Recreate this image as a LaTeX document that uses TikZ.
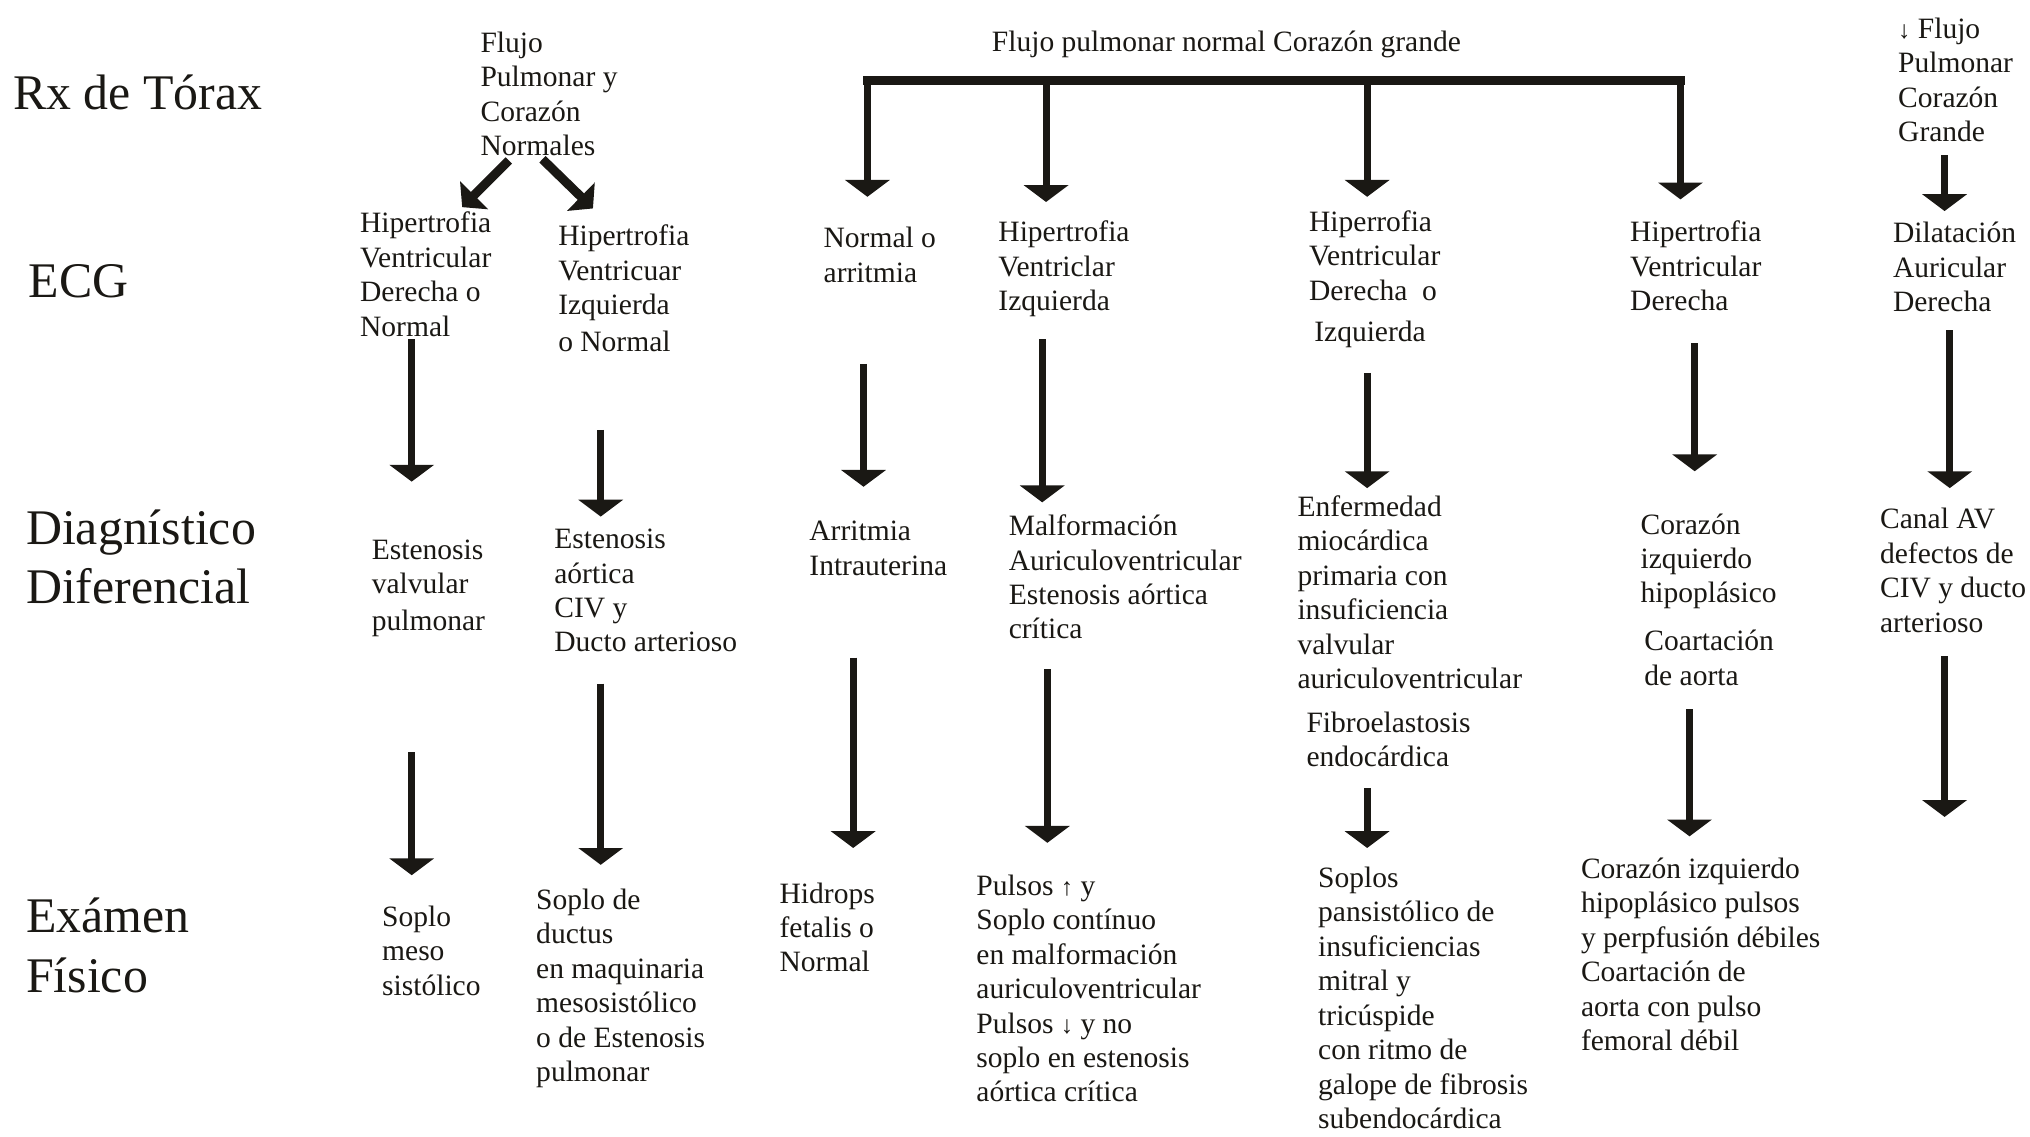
\documentclass[tikz,border=0pt]{standalone}
\usepackage{fontspec}
\setmainfont{Liberation Serif}
\usetikzlibrary{arrows.meta}
\definecolor{ink}{HTML}{1A1814}
% small arrow glyphs used inside the texts
\newcommand{\uparr}{{\fontsize{19}{19}\selectfont ↑}}
\newcommand{\dnarr}{{\fontsize{19}{19}\selectfont ↓}}
\begin{document}
\begin{tikzpicture}[x=1pt,y=-1pt,
  txt/.style={anchor=north west, inner sep=0pt, align=left, text=ink, yshift=8.5pt,
    font=\fontsize{22.8}{26.6}\selectfont, execute at begin node={\rule{0pt}{18pt}}},
  lbl/.style={anchor=north west, inner sep=0pt, align=left, text=ink, yshift=14.5pt,
    font=\fontsize{38.5}{46}\selectfont, execute at begin node={\rule{0pt}{30pt}}},
  arr/.style={draw=ink, line width=5.5pt, -{Triangle[width=34pt,length=13pt]}},
  diag/.style={draw=ink, line width=7pt, -{Triangle[width=30pt,length=13pt]}},
  bar/.style={draw=ink, line width=7pt, line cap=rect}]
\useasboundingbox[fill=white] (0,0) rectangle (1568,878);

% row titles
\node[lbl] (rx)  at (10,69)  {Rx de Tórax};
\node[lbl] (ecg) at (22,214) {ECG};
\node[lbl] (dx)  at (20,408) {Diagnístico\\Diferencial};
\node[lbl] (ex)  at (20,708) {Exámen\\Físico};

% chest x-ray
\node[txt] (fn) at (371,33)  {Flujo\\Pulmonar y\\Corazón\\Normales};
\node[txt] (fg) at (766,30)  {Flujo pulmonar normal Corazón grande};
\node[txt] (fd) at (1466,22) {\dnarr\ Flujo\\Pulmonar\\Corazón\\Grande};

% ECG
\node[txt] (e1) at (278,172)  {Hipertrofia\\Ventricular\\Derecha o\\Normal};
\node[txt] (e2) at (431,182)  {Hipertrofia\\Ventricuar\\Izquierda\\[2pt]o Normal};
\node[txt] (e3) at (636,184)  {Normal o\\arritmia};
\node[txt] (e4) at (771,179)  {Hipertrofia\\Ventriclar\\Izquierda};
\node[txt] (e5) at (1011,171) {Hiperrofia\\Ventricular\\Derecha\ \ o\\[5pt]\hspace{4pt}Izquierda};
\node[txt] (e6) at (1259,179) {Hipertrofia\\Ventricular\\Derecha};
\node[txt] (e7) at (1462,180) {Dilatación\\Auricular\\Derecha};

% differential diagnosis
\node[txt] (d1)  at (287,425)  {Estenosis\\valvular\\[2pt]pulmonar};
\node[txt] (d2)  at (428,417)  {Estenosis\\aórtica\\CIV y\\Ducto arterioso};
\node[txt] (d3)  at (625,411)  {Arritmia\\Intrauterina};
\node[txt] (d4)  at (779,406)  {Malformación\\Auriculoventricular\\Estenosis aórtica\\crítica};
\node[txt] (d5)  at (1002,391) {Enfermedad\\miocárdica\\primaria con\\insuficiencia\\valvular\\auriculoventricular};
\node[txt] (d5b) at (1009,558) {Fibroelastosis\\endocárdica};
\node[txt] (d6)  at (1267,405) {Corazón\\izquierdo\\hipoplásico};
\node[txt] (d6b) at (1270,495) {Coartación\\de aorta};
\node[txt] (d7)  at (1452,401) {Canal AV\\defectos de\\CIV y ducto\\arterioso};

% physical examination
\node[txt] (p1) at (295,708)  {Soplo\\meso\\sistólico};
\node[txt] (p2) at (414,695)  {Soplo de\\ductus\\en maquinaria\\mesosistólico\\o de Estenosis\\pulmonar};
\node[txt] (p3) at (602,690)  {Hidrops\\fetalis o\\Normal};
\node[txt] (p4) at (754,684)  {Pulsos \uparr\ y\\Soplo contínuo\\en malformación\\auriculoventricular\\Pulsos \dnarr\ y no\\soplo en estenosis\\aórtica crítica};
\node[txt] (p5) at (1018,678) {Soplos\\pansistólico de\\insuficiencias\\mitral y\\tricúspide\\con ritmo de\\galope de fibrosis\\subendocárdica};
\node[txt] (p6) at (1221,671) {Corazón izquierdo\\hipoplásico pulsos\\y perpfusión débiles\\Coartación de\\aorta con pulso\\femoral débil};

% bracket below the large-heart heading
\coordinate (barL) at (670,62);
\coordinate (barR) at (1298,62);
\draw[bar] (barL) -- (barR);
\foreach \n/\x/\b in {e3/670/152, e4/808/156, e5/1056/152, e6/1298/154} {
  \coordinate (br-\n) at (\x,62);
  \coordinate (tip-\n) at (\x,\b);
  \draw[arr] (br-\n) -- (tip-\n);
}

% diagonal arrows under the normal-heart heading
\coordinate (fnL) at (393,124);
\coordinate (fnLt) at (357,160);
\coordinate (fnR) at (419,123);
\coordinate (fnRt) at (458,161);
\draw[diag] (fnL) -- (fnLt);
\draw[diag] (fnR) -- (fnRt);

% vertical arrows between rows
\foreach \n/\x/\a/\b in {
  e1d1/318/262/372, d1p1/318/581/676,
  e2d2/464/332/399, d2p2/464/528/668,
  e3d3/667/281/376, d3p3/659/508/655,
  e4d4/805/262/388, d4p4/809/517/651,
  e5d5/1056/288/377, d5p5/1056/609/655,
  e6d6/1309/265/364, d6p6/1305/548/646,
  fde7/1502/120/163, e7d7/1506/255/377, d7px/1502/507/631} {
  \coordinate (\n-s) at (\x,\a);
  \coordinate (\n-e) at (\x,\b);
  \draw[arr] (\n-s) -- (\n-e);
}
\end{tikzpicture}
\end{document}
